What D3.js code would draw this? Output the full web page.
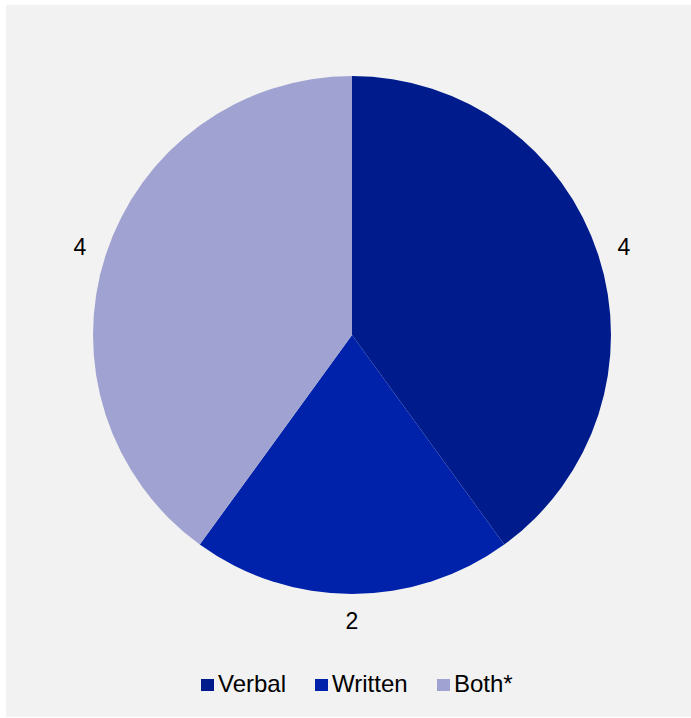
<!DOCTYPE html>
<html>
<head>
<meta charset="utf-8">
<script src="https://cdn.jsdelivr.net/npm/d3@7"></script>
<style>
  html, body { margin: 0; padding: 0; background: #ffffff; }
  svg { display: block; font-family: "Liberation Sans", Arial, sans-serif; }
</style>
</head>
<body>
<svg id="chart" width="691" height="718"></svg>
<script>
// Chart data
const categories = ["Verbal", "Written", "Both*"];
const values = [4, 2, 4];
const colors = ["#001c8c", "#0022aa", "#a0a3d1"];

const svg = d3.select("#chart");
const W = 691, H = 718;

// Panel background
svg.append("rect")
  .attr("x", 6).attr("y", 5)
  .attr("width", W - 6).attr("height", H - 6)
  .attr("fill", "#f2f2f2");

const cx = 352, cy = 335, R = 259, labelR = 286;

const pie = d3.pie().sort(null).value(d => d.value);
const arcs = pie(categories.map((c, i) => ({ name: c, value: values[i], color: colors[i] })));
const arc = d3.arc().innerRadius(0).outerRadius(R);

const g = svg.append("g").attr("transform", `translate(${cx},${cy})`);

g.selectAll("path.slice")
  .data(arcs)
  .join("path")
  .attr("class", "slice")
  .attr("d", arc)
  .attr("fill", d => d.data.color);

// Value labels outside each slice
g.selectAll("text.val")
  .data(arcs)
  .join("text")
  .attr("class", "val")
  .attr("x", d => labelR * Math.sin((d.startAngle + d.endAngle) / 2))
  .attr("y", d => -labelR * Math.cos((d.startAngle + d.endAngle) / 2))
  .attr("dy", "0.35em")
  .attr("text-anchor", "middle")
  .attr("font-size", 23)
  .attr("fill", "#000")
  .text(d => d.data.value);

// Legend
const legendX = [201, 315, 437];
const legend = svg.append("g");
categories.forEach((c, i) => {
  legend.append("rect")
    .attr("x", legendX[i]).attr("y", 679)
    .attr("width", 13).attr("height", 12)
    .attr("fill", colors[i]);
  legend.append("text")
    .attr("x", legendX[i] + 17).attr("y", 692)
    .attr("font-size", 24)
    .attr("fill", "#000")
    .text(c);
});
</script>
</body>
</html>
